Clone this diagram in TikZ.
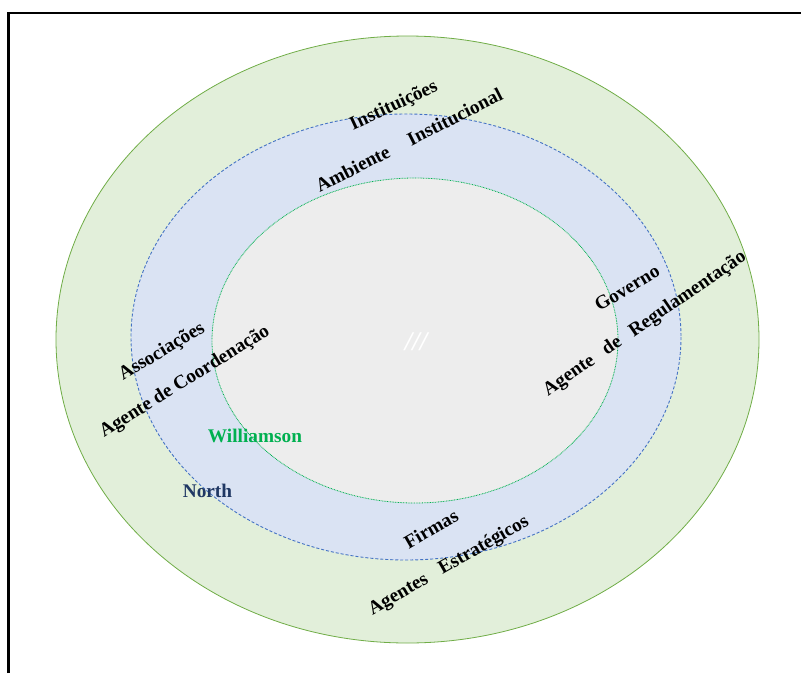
\documentclass[tikz,border=0pt]{standalone}
\usepackage{fontspec}
\setmainfont{Liberation Serif}
\definecolor{outerfill}{HTML}{E2EFDA}
\definecolor{outerdraw}{HTML}{70AD47}
\definecolor{midfill}{HTML}{DAE3F3}
\definecolor{middraw}{HTML}{4472C4}
\definecolor{innerfill}{HTML}{EDEDED}
\definecolor{innerdraw}{HTML}{00B050}
\definecolor{willgreen}{HTML}{00B050}
\definecolor{northblue}{HTML}{203864}
\begin{document}
\begin{tikzpicture}[x=1pt,y=-1pt,
  lbl/.style={font=\fontsize{19.3}{22}\selectfont\bfseries, inner sep=0pt, text=black}]
\useasboundingbox (0,0) rectangle (801,673);
\draw[line width=2.2pt] (8.5,673) -- (8.5,13) -- (801,13);
% ellipses
\path[fill=outerfill, draw=outerdraw, line width=0.8pt] (407.5,339.5) ellipse [x radius=351.5, y radius=303.5];
\path[fill=midfill, draw=middraw, line width=0.9pt, dash pattern=on 3pt off 2pt] (406,337) ellipse [x radius=275, y radius=223];
\path[fill=innerfill, draw=innerdraw, line width=0.8pt, dash pattern=on 0.8pt off 0.8pt] (415,340.5) ellipse [x radius=203, y radius=162.5];
% labels
\node[lbl, rotate=25] (inst) at (394,106) {Instituições};
\node[lbl, rotate=27] (amb) at (409,140) {Ambiente\hspace{1.15em}Institucional};
\node[lbl, rotate=31] (assoc) at (162,352) {Associações};
\node[lbl, rotate=32] (coord) at (185,382) {Agente de Coordenação};
\node[lbl, rotate=31] (gov) at (627,288) {Governo};
\node[lbl, rotate=34.5] (reg) at (645,324) {Agente\hspace{0.7em}de\hspace{0.7em}Regulamentação};
\node[lbl, rotate=30] (firm) at (431,529) {Firmas};
\node[lbl, rotate=30] (estr) at (449,566) {Agentes\hspace{0.8em}Estratégicos};
\node[lbl, text=willgreen, anchor=base] (will) at (255,442) {Williamson};
\node[lbl, text=northblue, anchor=base] (north) at (207.5,497.5) {North};
\node[inner sep=0pt, text=white, font=\fontsize{27}{30}\selectfont\bfseries\itshape] (sl) at (416,342) {///};
\end{tikzpicture}
\end{document}
